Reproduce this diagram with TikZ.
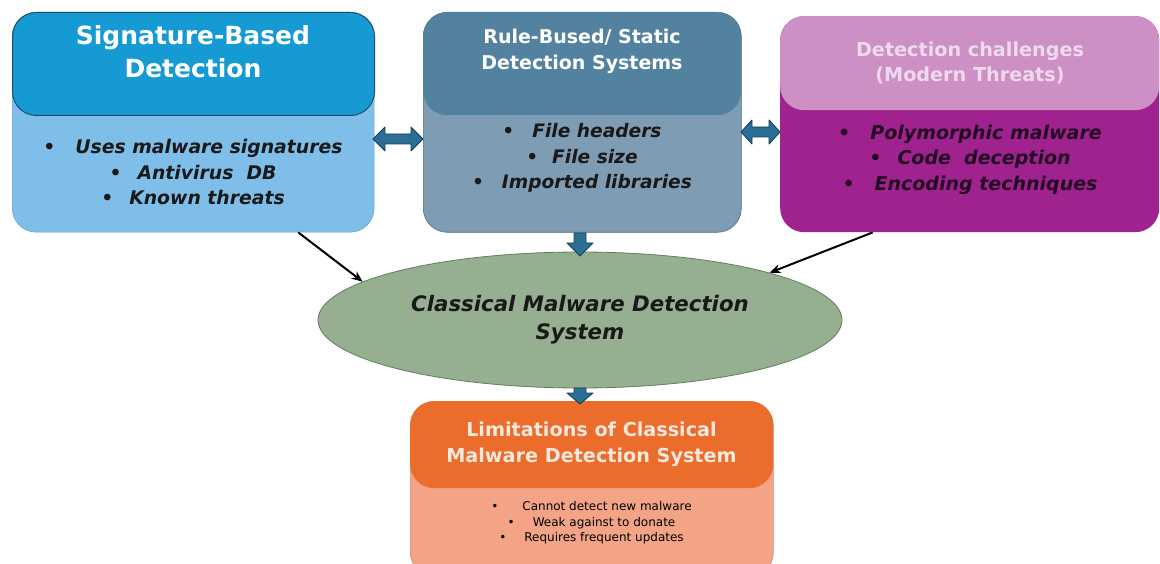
\documentclass[tikz,border=0pt]{standalone}
\usepackage{fontspec}
\setmainfont{DejaVu Sans}
\usetikzlibrary{shapes.geometric,arrows.meta}
\definecolor{sighead}{HTML}{169AD4}
\definecolor{sigbody}{HTML}{80BEEA}
\definecolor{sigline}{HTML}{1F4E6C}
\definecolor{rulehead}{HTML}{52829F}
\definecolor{rulebody}{HTML}{7F9CB5}
\definecolor{ruleline}{HTML}{4A6D86}
\definecolor{dethead}{HTML}{CC90C5}
\definecolor{detbody}{HTML}{A0228E}
\definecolor{dettitle}{HTML}{EEDAEC}
\definecolor{dettext}{HTML}{220822}
\definecolor{ellfill}{HTML}{95AF90}
\definecolor{ellline}{HTML}{5F7F5B}
\definecolor{limhead}{HTML}{EC6C2B}
\definecolor{limbody}{HTML}{F3A486}
\definecolor{limtitle}{HTML}{F8E8DE}
\definecolor{barrow}{HTML}{2B6F96}
\definecolor{barrowline}{HTML}{173F57}
\tikzset{
  box/.style={rectangle, rounded corners=24pt, anchor=north west, inner sep=0pt},
  ttl/.style={align=center, text=white, font=\bfseries},
  bul/.style={align=center, font=\bfseries\itshape},
  blockarrow/.style={fill=barrow, draw=barrowline, line width=0.9pt, line join=round},
  blk/.style={-{Stealth[length=11pt,width=9pt]}, line width=2pt, black}
}
\begin{document}
\begin{tikzpicture}[x=1pt,y=-1pt]
\useasboundingbox (0,0) rectangle (1160,564);

% Signature-based box
\node[box, fill=sigbody, draw=sigbody!80!black, minimum width=362pt, minimum height=220pt] (sig) at (12,12) {};
\node[box, fill=sighead, draw=sigline, line width=1pt, minimum width=362pt, minimum height=103pt] (sigh) at (12,12) {};
\node[ttl, font=\fontsize{25}{33}\selectfont\bfseries] (sigt) at (193,52) {Signature-Based\\Detection};
\node[bul, font=\fontsize{18.8}{25.5}\selectfont\bfseries\itshape, text=black!90] (sigb) at (193,172)
  {\textbullet\hspace{20pt}Uses malware signatures\\ \textbullet\hspace{16pt}Antivirus\ \ DB\\ \textbullet\hspace{16pt}Known threats};

% Rule-based box
\node[box, fill=rulebody, draw=ruleline, line width=0.6pt, minimum width=318pt, minimum height=220pt] (rule) at (423,12) {};
\node[box, fill=rulehead, minimum width=318pt, minimum height=103pt] (ruleh) at (423,12) {};
\node[ttl, font=\fontsize{19}{26}\selectfont\bfseries] (rulet) at (582,51) {Rule-Bused/ Static\\Detection Systems};
\node[bul, font=\fontsize{18.6}{25.5}\selectfont\bfseries\itshape, text=black!90] (ruleb) at (582,158)
  {\textbullet\hspace{18pt}File headers\\ \textbullet\hspace{14pt}File size\\ \textbullet\hspace{18pt}Imported libraries};

% Detection challenges box
\node[box, fill=detbody, minimum width=379pt, minimum height=216pt] (det) at (780,16) {};
\node[box, fill=dethead, minimum width=379pt, minimum height=94pt] (deth) at (780,16) {};
\node[ttl, text=dettitle, font=\fontsize{19.2}{25}\selectfont\bfseries] (dett) at (970,62.5) {Detection challenges\\(Modern Threats)};
\node[bul, font=\fontsize{19}{25.5}\selectfont\bfseries\itshape, text=dettext] (detb) at (970,159.5)
  {\textbullet\hspace{20pt}Polymorphic malware\\ \textbullet\hspace{16pt}Code\ \ deception\\ \textbullet\hspace{20pt}Encoding techniques};

% Ellipse
\node[ellipse, fill=ellfill, draw=ellline, line width=0.8pt, minimum width=524pt, minimum height=136pt, inner sep=0pt] (ell) at (580,320) {};
\node[bul, font=\fontsize{21.3}{28}\selectfont\bfseries\itshape, text=black!90] (ellt) at (580,320) {Classical Malware Detection\\System};

% Limitations box
\node[box, fill=limbody, draw=limbody!85!black, line width=0.6pt, minimum width=363pt, minimum height=175pt] (lim) at (410,401) {};
\node[box, fill=limhead, minimum width=363pt, minimum height=87pt] (limh) at (410,401) {};
\node[ttl, text=limtitle, font=\fontsize{19.2}{26}\selectfont\bfseries] (limt) at (591.5,444) {Limitations of Classical\\Malware Detection System};
\node[align=center, font=\fontsize{12}{15.5}\selectfont, text=black] (limb) at (591.5,523)
  {\textbullet\hspace{24pt}Cannot detect new malware\\ \textbullet\hspace{18pt}Weak against to donate\\ \textbullet\hspace{18pt}Requires frequent updates};

% Block arrows
\draw[blockarrow] (373,139) -- (385,127) -- (385,134) -- (411,134) -- (411,127) -- (423,139)
  -- (411,151) -- (411,144) -- (385,144) -- (385,151) -- cycle;
\draw[blockarrow] (741,132) -- (752,120) -- (752,127) -- (769,127) -- (769,120) -- (780,132)
  -- (769,144) -- (769,137) -- (752,137) -- (752,144) -- cycle;
\draw[blockarrow] (574,233) -- (586,233) -- (586,243) -- (593,243) -- (580,256) -- (567,243) -- (574,243) -- cycle;
\draw[blockarrow] (574,388) -- (586,388) -- (586,393) -- (593,393) -- (580,404) -- (567,393) -- (574,393) -- cycle;

% Black arrows
\draw[blk] ([xshift=105pt]sig.south) -- (ell.170);
\draw[blk] ([xshift=-97pt]det.south) -- (ell.14);
\end{tikzpicture}
\end{document}
